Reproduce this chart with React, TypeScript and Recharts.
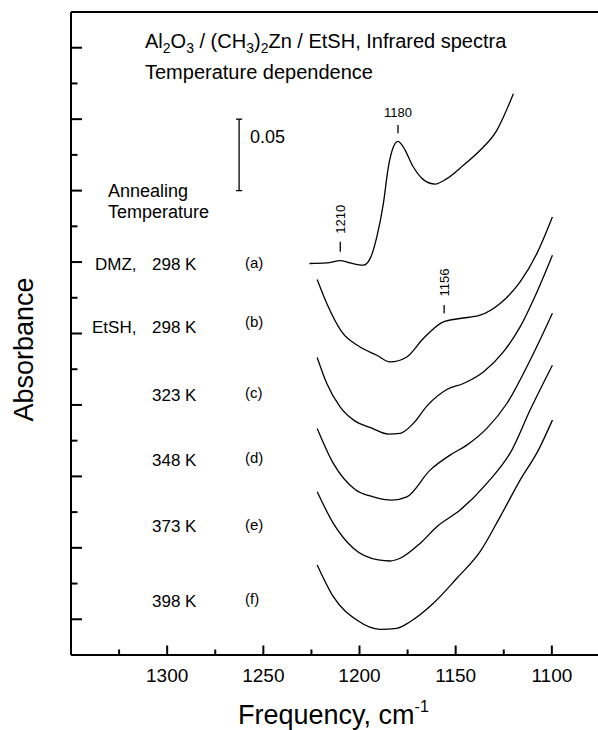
import { LineChart, Line, XAxis, YAxis, ReferenceLine, Customized } from "recharts"

const FONT = "'Liberation Sans', Arial, Helvetica, sans-serif"

// IR spectra, wavenumber (cm-1) vs absorbance, stacked with vertical offsets
// (a) DMZ, 298 K
const freqA = [1226, 1217, 1210, 1205, 1198, 1194.5, 1191, 1187.6, 1185, 1182.4, 1180, 1177.2, 1172, 1166.8, 1160.7, 1154.6, 1146, 1137.3, 1128.6, 1120]
const absA = [0.249, 0.2494, 0.251, 0.2494, 0.2478, 0.2524, 0.2676, 0.2909, 0.3165, 0.3305, 0.3345, 0.3305, 0.3165, 0.3077, 0.3046, 0.3084, 0.3177, 0.3282, 0.3422, 0.3678]
// (b) EtSH, 298 K
const freqB = [1222, 1217, 1209.2, 1199.7, 1191, 1184.1, 1175.4, 1166.8, 1156.4, 1147.7, 1137.3, 1126.9, 1116.5, 1107.8, 1099.7]
const absB = [0.2378, 0.221, 0.2011, 0.1906, 0.1848, 0.1801, 0.1836, 0.1965, 0.2081, 0.2105, 0.2128, 0.221, 0.2361, 0.2559, 0.2815]
// (c) 323 K
const freqC = [1222, 1217, 1210.1, 1202.3, 1194.5, 1185, 1178.9, 1172, 1165, 1154.6, 1146, 1135.6, 1125.2, 1116.5, 1107.8, 1099.7]
const absC = [0.1832, 0.165, 0.1487, 0.1387, 0.1343, 0.1296, 0.1301, 0.1371, 0.1492, 0.1608, 0.165, 0.1731, 0.1871, 0.2046, 0.2289, 0.2548]
// (d) 348 K
const freqD = [1222, 1213.6, 1202.3, 1192.8, 1183.2, 1175.4, 1163.3, 1152.9, 1144.2, 1133.8, 1123.4, 1111.3, 1099.7]
const absD = [0.1336, 0.1091, 0.0909, 0.0857, 0.0834, 0.0857, 0.1044, 0.1149, 0.1219, 0.1336, 0.151, 0.1813, 0.2142]
// (e) 373 K
const freqE = [1222, 1213.6, 1203.2, 1190.2, 1184.1, 1178.9, 1168.5, 1159.8, 1147.7, 1133.8, 1120.8, 1111.3, 1099.7]
const absE = [0.0892, 0.0671, 0.0497, 0.0415, 0.0408, 0.0427, 0.0531, 0.0648, 0.0764, 0.0951, 0.1184, 0.1464, 0.1778]
// (f) 398 K
const freqF = [1222, 1213.6, 1201.4, 1189.3, 1180.6, 1173.7, 1161.6, 1149.4, 1137.3, 1126.9, 1116.5, 1107, 1099.7]
const absF = [0.038, 0.0158, -0.0005, -0.007, -0.0063, -0.0017, 0.0112, 0.0287, 0.0473, 0.0717, 0.0974, 0.1184, 0.1394]

const xTicks = [1325, 1300, 1275, 1250, 1225, 1200, 1175, 1150, 1125, 1100]
const yTicks = [0, 0.025, 0.05, 0.075, 0.1, 0.125, 0.15, 0.175, 0.2, 0.225, 0.25, 0.275, 0.3, 0.325, 0.35, 0.375, 0.4]

const X_DOMAIN: [number, number] = [1076, 1350]
const Y_DOMAIN: [number, number] = [-0.025, 0.425]

// marked peaks: wavenumber, tick bottom/top (absorbance)
const peak1180 = { freq: 1180, y0: 0.3401, y1: 0.3459 }
const peak1210 = { freq: 1210, y0: 0.2572, y1: 0.2642 }
const peak1156 = { freq: 1156, y0: 0.2141, y1: 0.2199 }

// 0.05 absorbance scale bar
const scaleBar = { freq: 1262.6, from: 0.3, to: 0.35 }

const rows = [
  { name: "DMZ,", nameX: 95, temp: "298 K", tag: "(a)", y: 270, tagY: 267.5 },
  { name: "EtSH,", nameX: 92, temp: "298 K", tag: "(b)", y: 332.5, tagY: 327 },
  { name: "", nameX: 0, temp: "323 K", tag: "(c)", y: 400.5, tagY: 397.5 },
  { name: "", nameX: 0, temp: "348 K", tag: "(d)", y: 466, tagY: 462.8 },
  { name: "", nameX: 0, temp: "373 K", tag: "(e)", y: 532.3, tagY: 529.5 },
  { name: "", nameX: 0, temp: "398 K", tag: "(f)", y: 607.3, tagY: 604.2 },
]

const toPoints = (freq: number[], abs: number[]) => freq.map((f, i) => ({ freq: f, abs: abs[i] }))

const spectra = [
  toPoints(freqA, absA),
  toPoints(freqB, absB),
  toPoints(freqC, absC),
  toPoints(freqD, absD),
  toPoints(freqE, absE),
  toPoints(freqF, absF),
]

// inward ticks on the frequency axis, labels only on the 50 cm-1 marks
function XTick({ x, y, payload }: any) {
  const major = Math.round(payload.value) % 50 === 0
  return (
    <g>
      <line x1={x} y1={y} x2={x} y2={y - (major ? 9.5 : 5.5)} stroke="#000" strokeWidth={2} />
      {major && (
        <text x={x} y={y + 26.7} textAnchor="middle" fontSize={19} fontFamily={FONT} fill="#000">
          {payload.value}
        </text>
      )}
    </g>
  )
}

function YTick({ x, y, payload }: any) {
  const major = Math.round(payload.value * 1000) % 50 === 0
  return <line x1={x} y1={y} x2={x + (major ? 11 : 6.5)} y2={y} stroke="#000" strokeWidth={2} />
}

function RotLabel({ viewBox, text }: any) {
  const cx = viewBox.x + 4.7
  const cy = viewBox.y - 22.5
  return (
    <text
      transform={`translate(${cx},${cy}) rotate(-90)`}
      textAnchor="middle"
      fontSize={13}
      fontFamily={FONT}
      fill="#000"
    >
      {text}
    </text>
  )
}

function ScaleLabel({ viewBox }: any) {
  return (
    <text x={viewBox.x + 11} y={viewBox.y + 23.4} fontSize={18} fontFamily={FONT} fill="#000">
      0.05
    </text>
  )
}

function Annotations() {
  return (
    <g fontFamily={FONT} fill="#000">
      <text x={145} y={47.6} fontSize={20}>
        Al<tspan dy={5} fontSize={14}>2</tspan>
        <tspan dy={-5}>O</tspan>
        <tspan dy={5} fontSize={14}>3</tspan>
        <tspan dy={-5}> / (CH</tspan>
        <tspan dy={5} fontSize={14}>3</tspan>
        <tspan dy={-5}>)</tspan>
        <tspan dy={5} fontSize={14}>2</tspan>
        <tspan dy={-5}>Zn / EtSH, Infrared spectra</tspan>
      </text>
      <text x={145} y={79.3} fontSize={20}>Temperature dependence</text>

      <text x={108} y={197} fontSize={18}>Annealing</text>
      <text x={108} y={218} fontSize={18}>Temperature</text>

      {rows.map((r) => (
        <g key={r.tag}>
          {r.name && (
            <text x={r.nameX} y={r.y} fontSize={17}>{r.name}</text>
          )}
          <text x={152} y={r.y} fontSize={17}>{r.temp}</text>
          <text x={245} y={r.tagY} fontSize={15}>{r.tag}</text>
        </g>
      ))}

      <text transform="translate(33,349.5) rotate(-90)" textAnchor="middle" fontSize={27}>
        Absorbance
      </text>
      <text x={238} y={724} fontSize={27}>
        Frequency, cm<tspan dy={-12.5} fontSize={16}>-1</tspan>
      </text>
    </g>
  )
}

export default function App() {
  return (
    <div
      style={{
        position: "fixed",
        left: 0,
        top: 0,
        width: 598,
        height: 730,
        overflow: "hidden",
        background: "#fff",
      }}
    >
      <LineChart width={598} height={730} margin={{ top: 11, right: 0, bottom: 74, left: 70 }}>
        <XAxis
          dataKey="freq"
          type="number"
          domain={X_DOMAIN}
          reversed
          allowDataOverflow
          ticks={xTicks}
          interval={0}
          height={1}
          tickSize={0}
          tickMargin={0}
          tickLine={false}
          tick={(p: any) => <XTick {...p} />}
          axisLine={{ stroke: "#000", strokeWidth: 2 }}
        />
        <XAxis
          xAxisId="top"
          orientation="top"
          type="number"
          domain={X_DOMAIN}
          reversed
          height={1}
          tick={false}
          tickLine={false}
          axisLine={{ stroke: "#000", strokeWidth: 2 }}
        />
        <YAxis
          type="number"
          domain={Y_DOMAIN}
          allowDataOverflow
          ticks={yTicks}
          interval={0}
          width={1}
          tickSize={0}
          tickMargin={0}
          tickLine={false}
          tick={(p: any) => <YTick {...p} />}
          axisLine={{ stroke: "#000", strokeWidth: 2 }}
        />

        {spectra.map((d, i) => (
          <Line
            key={i}
            data={d}
            dataKey="abs"
            type="monotone"
            stroke="#000"
            strokeWidth={1.3}
            dot={false}
            isAnimationActive={false}
          />
        ))}

        <ReferenceLine
          segment={[{ x: peak1180.freq, y: peak1180.y0 }, { x: peak1180.freq, y: peak1180.y1 }]}
          stroke="#000"
          strokeWidth={1.3}
          label={{ value: "1180", position: "top", offset: 8, fontSize: 13, fill: "#000", fontFamily: FONT }}
        />
        <ReferenceLine
          segment={[{ x: peak1210.freq, y: peak1210.y0 }, { x: peak1210.freq, y: peak1210.y1 }]}
          stroke="#000"
          strokeWidth={1.3}
          label={<RotLabel text="1210" />}
        />
        <ReferenceLine
          segment={[{ x: peak1156.freq, y: peak1156.y0 }, { x: peak1156.freq, y: peak1156.y1 }]}
          stroke="#000"
          strokeWidth={1.3}
          label={<RotLabel text="1156" />}
        />

        <ReferenceLine
          segment={[{ x: scaleBar.freq, y: scaleBar.from }, { x: scaleBar.freq, y: scaleBar.to }]}
          stroke="#000"
          strokeWidth={1.3}
          label={<ScaleLabel />}
        />
        <ReferenceLine
          segment={[{ x: scaleBar.freq + 1.6, y: scaleBar.to }, { x: scaleBar.freq - 1.6, y: scaleBar.to }]}
          stroke="#000"
          strokeWidth={1.3}
        />
        <ReferenceLine
          segment={[{ x: scaleBar.freq + 1.6, y: scaleBar.from }, { x: scaleBar.freq - 1.6, y: scaleBar.from }]}
          stroke="#000"
          strokeWidth={1.3}
        />

        <Customized component={<Annotations />} />
      </LineChart>
    </div>
  )
}
